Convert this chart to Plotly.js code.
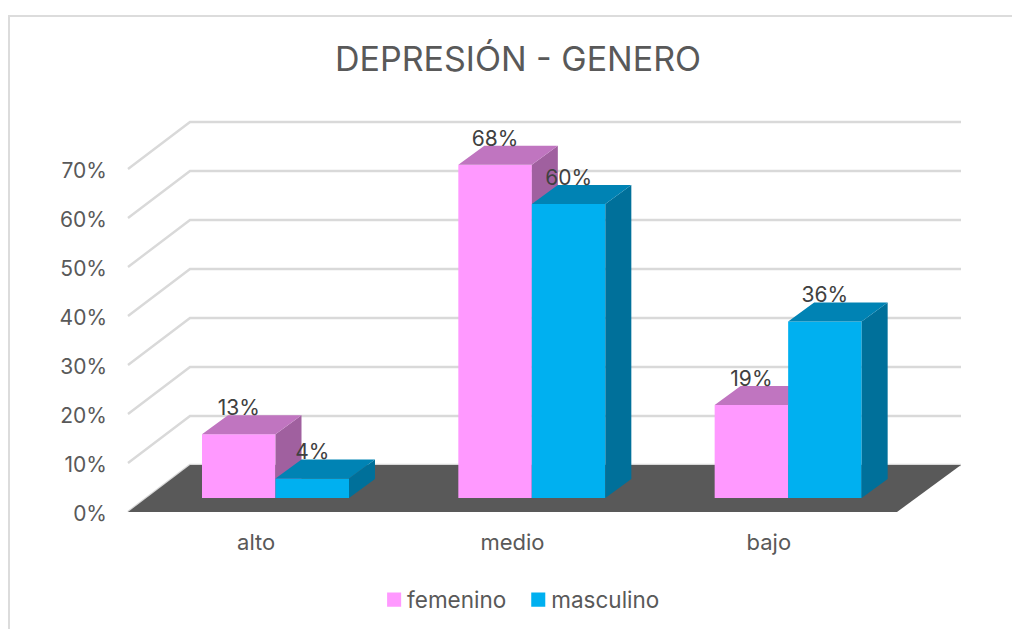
<!DOCTYPE html>
<html>
<head>
<meta charset="utf-8">
<script src="https://cdn.plot.ly/plotly-3.0.1.min.js"></script>
<style>
html,body{margin:0;padding:0;background:#fff;overflow:hidden}
#frame{position:absolute;left:8px;top:15px;width:1100px;height:700px;border:2px solid #dcdcdc;box-sizing:border-box}
#chart{position:absolute;left:0;top:0;width:1012px;height:629px}
</style>
</head>
<body>
<div id="frame"></div>
<div id="chart"></div>
<script>
const categories = ['alto', 'medio', 'bajo'];
const femenino = [13, 68, 19];
const masculino = [4, 60, 36];
const yTicks = [0, 10, 20, 30, 40, 50, 60, 70];

// projection of the pseudo-3D box, expressed in axis units
const catPx = 256.33, pctPx = 4.9;
const wallDx = 62 / catPx, wallDy = 47 / pctPx;
const barInsetDy = 14 / pctPx;
const barW = 73.5 / catPx;
const depthDx = 26 / catPx, depthDy = 19 / pctPx;
const labelDy = 24.5 / pctPx;
const nCat = categories.length;
const FONT = 'Inter, "Noto Sans", sans-serif';

function barLeft(i, s) { return i + 74 / catPx + s * barW; }

function facePolys(values, s) {
  const top = {x: [], y: []}, side = {x: [], y: []};
  values.forEach((v, i) => {
    const x0 = barLeft(i, s), x1 = x0 + barW, yb = barInsetDy, yt = yb + v;
    top.x.push(x0, x0 + depthDx, x1 + depthDx, x1, x0, null);
    top.y.push(yt, yt + depthDy, yt + depthDy, yt, yt, null);
    side.x.push(x1, x1 + depthDx, x1 + depthDx, x1, x1, null);
    side.y.push(yt, yt + depthDy, yb + depthDy, yb, yt, null);
  });
  return {top, side};
}

function series(name, values, s, front, topC, sideC, xa, ya) {
  const f = facePolys(values, s);
  const poly = (p, c) => ({type: 'scatter', mode: 'lines', x: p.x, y: p.y, xaxis: xa, yaxis: ya,
    fill: 'toself', fillcolor: c, line: {width: 0, color: c}, hoverinfo: 'skip', showlegend: false});
  return [
    {type: 'bar', name: name, x: values.map((v, i) => barLeft(i, s) + barW / 2), y: values,
      base: values.map(() => barInsetDy), width: barW, marker: {color: front, line: {width: 0}},
      xaxis: xa, yaxis: ya, hoverinfo: 'skip'},
    poly(f.side, sideC), poly(f.top, topC)
  ];
}

function labels(values, s) {
  return {type: 'scatter', mode: 'text', xaxis: 'x2', yaxis: 'y2', showlegend: false, hoverinfo: 'skip',
    x: values.map((v, i) => barLeft(i, s) + barW / 2),
    y: values.map(v => v + barInsetDy + labelDy),
    text: values.map(v => v + '%'), textposition: 'middle center',
    textfont: {family: FONT, size: 21, color: '#404040'}};
}

const xEnd = nCat + 64 / catPx;
const shapes = [];
yTicks.forEach(v => {
  shapes.push({type: 'path', layer: 'below', xref: 'x', yref: 'y',
    path: `M0,${v} L${wallDx},${v + wallDy} L${xEnd},${v + wallDy}`,
    line: {color: '#d9d9d9', width: 2.4}});
});
shapes.push({type: 'path', layer: 'below', xref: 'x', yref: 'y',
  path: `M0,0 L${wallDx},${wallDy} L${xEnd},${wallDy} L${nCat},0 Z`,
  fillcolor: '#595959', line: {width: 0}});

const xRange = [-20 / catPx, (970 - 128) / catPx];
const yRange = [0, (512 - 100) / pctPx];

const data = [
  ...series('femenino', femenino, 0, '#FF99FF', '#C075C0', '#A0609F', 'x', 'y'),
  ...series('masculino', masculino, 1, '#00B0F0', '#0083B4', '#00709A', 'x2', 'y2'),
  labels(femenino, 0), labels(masculino, 1)
];

const layout = {
  width: 1012, height: 629, autosize: false,
  paper_bgcolor: 'rgba(0,0,0,0)', plot_bgcolor: 'rgba(0,0,0,0)',
  margin: {l: 108, r: 42, t: 100, b: 117, pad: 0},
  hovermode: false, barmode: 'overlay', shapes: shapes,
  font: {family: FONT, color: '#595959'},
  title: {text: 'DEPRESIÓN - GENERO', font: {family: FONT, size: 34, color: '#595959'},
    x: 518 / 1012, xanchor: 'center', y: 1 - 59 / 629, yanchor: 'middle'},
  xaxis: {range: xRange, tickmode: 'array', tickvals: categories.map((c, i) => i + 0.5), ticktext: categories,
    showgrid: false, zeroline: false, showline: false, ticks: 'outside', ticklen: 11, tickcolor: 'rgba(0,0,0,0)',
    tickfont: {family: FONT, size: 22, color: '#595959'}, fixedrange: true},
  yaxis: {range: yRange, tickmode: 'array', tickvals: yTicks, ticktext: yTicks.map(v => v + '%'),
    showgrid: false, zeroline: false, showline: false, ticks: '', ticklabelshift: 2,
    tickfont: {family: FONT, size: 21, color: '#595959'}, fixedrange: true},
  xaxis2: {range: xRange, overlaying: 'x', visible: false, fixedrange: true},
  yaxis2: {range: yRange, overlaying: 'y', visible: false, fixedrange: true},
  legend: {orientation: 'h', x: 0.51, xref: 'container', xanchor: 'center', y: 1 - 600 / 629, yref: 'container', yanchor: 'middle',
    font: {family: FONT, size: 22.5, color: '#595959'}, itemwidth: 30, traceorder: 'normal', bgcolor: 'rgba(0,0,0,0)'}
};

Plotly.newPlot('chart', data, layout, {displayModeBar: false, staticPlot: true}).then(gd => {
  // tuck the legend swatches next to their labels and size them like the reference
  gd.querySelectorAll('.legend .legendpoints path').forEach(p => {
    const t = p.getAttribute('transform') || '';
    p.setAttribute('transform', t + ' translate(7,0) scale(1.17)');
  });
});
</script>
</body>
</html>
